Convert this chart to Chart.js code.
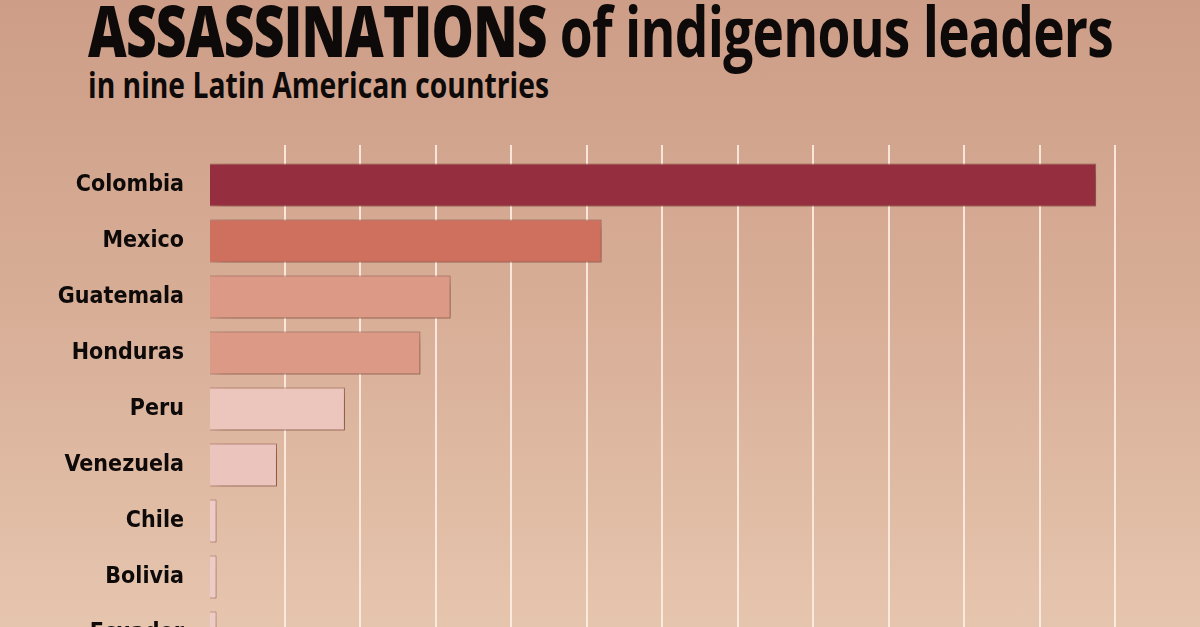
<!DOCTYPE html>
<html>
<head>
<meta charset="utf-8">
<script src="https://cdn.jsdelivr.net/npm/chart.js@4"></script>
<style>
  html, body { margin: 0; padding: 0; }
  body {
    width: 1200px; height: 627px; overflow: hidden; position: relative;
    background: linear-gradient(to bottom, #cd9d87 0%, #d8ae97 50%, #e6c5ae 100%);
  }
  .title, .sub {
    position: absolute; left: 88px; margin: 0; line-height: 1;
    font-family: 'Open Sans', sans-serif; color: #0d0a09; white-space: nowrap;
    transform-origin: 0 0;
  }
  .title { top: -5px; font-size: 70px; font-weight: 700; letter-spacing: -1px; }
  .title b { font-weight: 800; }
  .sub { top: 67px; font-size: 35px; font-weight: 700; }
  #chart { position: absolute; left: 0; top: 0; }
</style>
</head>
<body>
<h1 class="title" data-w="1025"><b>ASSASSINATIONS</b> of indigenous leaders</h1>
<h2 class="sub" data-w="461">in nine Latin American countries</h2>
<canvas id="chart" width="1200" height="680"></canvas>
<script>
const countries = ['Colombia', 'Mexico', 'Guatemala', 'Honduras', 'Peru', 'Venezuela', 'Chile', 'Bolivia', 'Ecuador'];
const killings = [235, 104, 64, 56, 36, 18, 2, 2, 2];
const barColors = ['#952f3f', '#cf705f', '#dc9986', '#dc9986', '#ecc6bc', '#ebc5bd', '#edcbc6', '#edcbc6', '#edcbc6'];

const labelFont = "'Liberation Sans Narrow', 'DejaVu Sans Condensed', 'Open Sans', sans-serif";

// squeeze the headings to the condensed width of the original
document.querySelectorAll('[data-w]').forEach(el => {
  const k = +el.dataset.w / el.getBoundingClientRect().width;
  el.style.transform = `scaleX(${k})`;
});

const barShadow = {
  id: 'barShadow',
  beforeDatasetsDraw(chart) {
    const c = chart.ctx;
    c.save();
    c.shadowColor = 'rgba(90, 40, 30, 0.45)';
    c.shadowBlur = 14;
    c.shadowOffsetX = 6;
    c.shadowOffsetY = 5;
  },
  afterDatasetsDraw(chart) {
    chart.ctx.restore();
  }
};

new Chart(document.getElementById('chart'), {
  type: 'bar',
  data: {
    labels: countries,
    datasets: [{
      data: killings,
      backgroundColor: barColors,
      borderColor: 'rgba(110, 45, 40, 0.55)',
      borderWidth: 1,
      categoryPercentage: 1,
      barPercentage: 0.77
    }]
  },
  options: {
    indexAxis: 'y',
    responsive: false,
    animation: false,
    layout: { padding: { top: 145, right: 85, bottom: 19, left: 0 } },
    plugins: { legend: { display: false }, tooltip: { enabled: false } },
    scales: {
      x: {
        position: 'top',
        min: 0, max: 240,
        ticks: { display: false, stepSize: 20 },
        border: { display: false },
        grid: {
          drawTicks: true, tickLength: 12, lineWidth: 2,
          color: ctx => ctx.tick && ctx.tick.value === 0 ? 'rgba(0,0,0,0)' : 'rgba(255, 240, 230, 0.85)'
        }
      },
      y: {
        afterFit: s => { s.width = 209; s.paddingTop = 0; s.paddingBottom = 0; },
        border: { display: false },
        grid: { display: false },
        ticks: {
          padding: 17,
          color: '#0d0a09',
          font: { family: labelFont, size: 23, weight: 'bold' }
        }
      }
    }
  },
  plugins: [barShadow]
});
</script>
</body>
</html>
